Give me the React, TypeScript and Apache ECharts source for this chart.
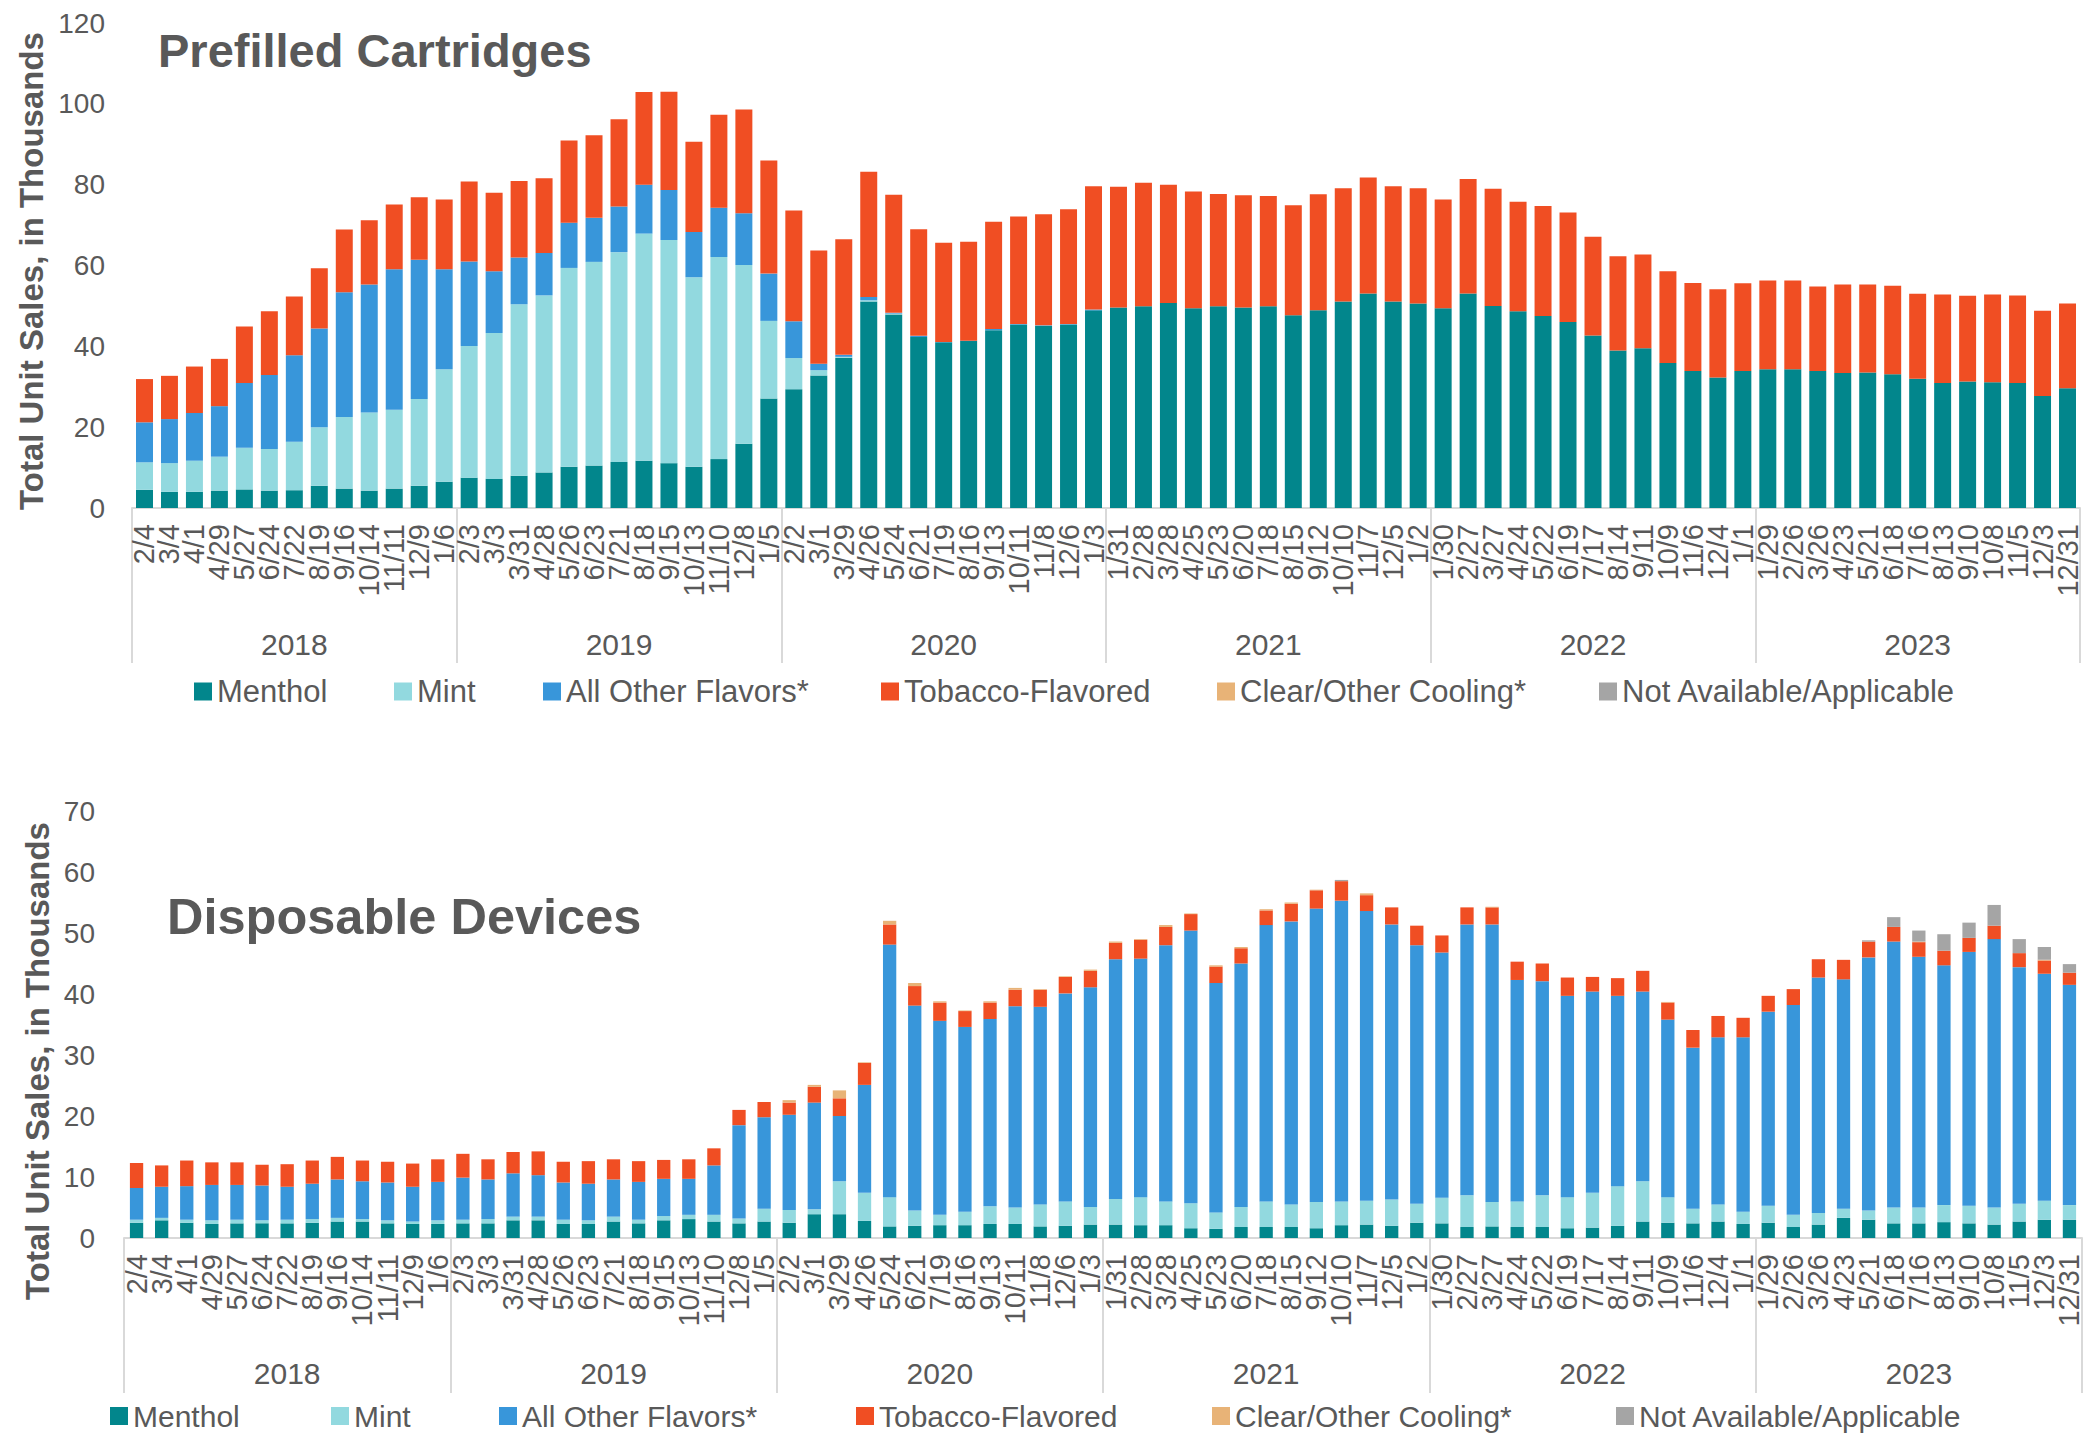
import React, { useEffect, useRef } from 'react';
import * as echarts from 'echarts';

const categories = [
  '2/4','3/4','4/1','4/29','5/27','6/24','7/22','8/19','9/16','10/14','11/11','12/9','1/6',
  '2/3','3/3','3/31','4/28','5/26','6/23','7/21','8/18','9/15','10/13','11/10','12/8','1/5',
  '2/2','3/1','3/29','4/26','5/24','6/21','7/19','8/16','9/13','10/11','11/8','12/6','1/3',
  '1/31','2/28','3/28','4/25','5/23','6/20','7/18','8/15','9/12','10/10','11/7','12/5','1/2',
  '1/30','2/27','3/27','4/24','5/22','6/19','7/17','8/14','9/11','10/9','11/6','12/4','1/1',
  '1/29','2/26','3/26','4/23','5/21','6/18','7/16','8/13','9/10','10/8','11/5','12/3','12/31',
];
const years = ['2018', '2019', '2020', '2021', '2022', '2023'];
const seriesNames = ['Menthol', 'Mint', 'All Other Flavors*', 'Tobacco-Flavored', 'Clear/Other Cooling*', 'Not Available/Applicable'];

// Prefilled Cartridges (thousands)
const cartMenthol = [
  4.5,4.0,4.0,4.3,4.6,4.3,4.4,5.5,4.8,4.3,4.8,5.5,6.5,
  7.5,7.2,8.0,8.8,10.2,10.5,11.4,11.7,11.1,10.2,12.1,15.9,27.1,
  29.4,32.8,37.2,51.1,47.9,42.3,41.0,41.3,44.0,45.4,45.1,45.4,48.9,
  49.6,49.9,50.7,49.4,49.9,49.6,49.9,47.7,48.9,51.1,53.1,51.1,50.6,
  49.4,53.1,50.0,48.7,47.5,46.0,42.7,39.0,39.5,35.9,33.9,32.3,33.9,
  34.3,34.3,33.9,33.4,33.5,33.1,32.0,30.9,31.3,31.1,30.9,27.7,29.6,
];
const cartMint = [
  6.8,7.1,7.7,8.4,10.3,10.3,12.0,14.5,17.7,19.3,19.5,21.5,27.8,
  32.6,36.1,42.4,43.8,49.2,50.4,51.9,56.2,55.2,46.9,50.0,44.2,19.2,
  7.7,1.3,0.2,0.3,0.2,0,0,0,0,0,0,0,0,
  0,0,0,0,0,0,0,0,0,0,0,0,0,
  0,0,0,0,0,0,0,0,0,0,0,0,0,
  0,0,0,0,0,0,0,0,0,0,0,0,0,
];
const cartOther = [
  9.9,10.9,11.8,12.5,16.0,18.3,21.4,24.4,30.9,31.7,34.8,34.4,24.8,
  20.9,15.3,11.6,10.5,11.2,10.9,11.3,12.1,12.4,11.2,12.2,12.8,11.7,
  9.1,1.6,0.5,0.8,0.2,0.3,0.1,0.1,0.3,0.1,0.1,0.1,0.2,
  0,0,0,0,0,0,0,0,0,0,0,0,0,
  0,0,0,0,0,0,0,0,0,0,0,0,0,
  0,0,0,0,0,0,0,0,0,0,0,0,0,
];
const cartTobacco = [
  10.7,10.7,11.5,11.7,14.0,15.8,14.5,14.9,15.5,15.9,16.0,15.5,17.2,
  19.8,19.4,18.9,18.5,20.3,20.4,21.6,22.9,24.3,22.3,23.0,25.7,28.0,
  27.4,28.0,28.6,31.0,29.2,26.4,24.5,24.5,26.5,26.6,27.5,28.4,30.5,
  29.9,30.6,29.3,28.9,27.8,27.8,27.3,27.2,28.7,28.0,28.7,28.5,28.5,
  26.9,28.3,29.0,27.1,27.2,27.1,24.4,23.3,23.2,22.7,21.8,21.8,21.7,
  22.0,22.0,20.9,21.9,21.8,21.9,21.0,21.9,21.2,21.7,21.7,21.1,21.0,
];
const cartClear = [
  0,0,0,0,0,0,0,0,0,0,0,0,0,
  0,0,0,0,0,0,0,0,0,0,0,0,0,
  0,0,0,0,0,0,0,0,0,0,0,0,0,
  0,0,0,0,0,0,0,0,0,0,0,0,0,
  0,0,0,0,0,0,0,0,0,0,0,0,0,
  0,0,0,0,0,0,0,0,0,0,0,0,0,
];
const cartNA = [
  0,0,0,0,0,0,0,0,0,0,0,0,0,
  0,0,0,0,0,0,0,0,0,0,0,0,0,
  0,0,0,0,0,0,0,0,0,0,0,0,0,
  0,0,0,0,0,0,0,0,0,0,0,0,0,
  0,0,0,0,0,0,0,0,0,0,0,0,0,
  0,0,0,0,0,0,0,0,0,0,0,0,0,
];

// Disposable Devices (thousands)
const dispMenthol = [
  2.5,2.9,2.5,2.3,2.4,2.4,2.4,2.5,2.7,2.7,2.4,2.3,2.3,
  2.4,2.4,2.9,2.9,2.3,2.3,2.7,2.4,2.9,3.1,2.7,2.4,2.7,
  2.5,3.9,3.9,2.8,1.9,2.0,2.1,2.1,2.3,2.3,1.9,2.0,2.2,
  2.2,2.1,2.1,1.6,1.5,1.8,1.8,1.8,1.6,2.1,2.2,2.0,2.5,
  2.4,1.8,1.9,1.8,1.8,1.6,1.7,2.0,2.7,2.5,2.4,2.7,2.3,
  2.5,1.8,2.2,3.3,3.0,2.4,2.4,2.6,2.4,2.2,2.7,3.0,3.0,
];
const dispMint = [
  0.5,0.4,0.5,0.6,0.6,0.5,0.6,0.6,0.6,0.4,0.5,0.4,0.6,
  0.6,0.7,0.6,0.6,0.7,0.6,0.8,0.6,0.7,0.7,1.1,0.8,2.1,
  2.1,0.8,5.4,4.6,4.8,2.5,1.7,2.2,2.9,2.7,3.6,4.0,2.9,
  4.2,4.6,3.9,4.1,2.7,3.3,4.2,3.7,4.3,3.9,3.9,4.3,3.1,
  4.2,5.2,4.0,4.2,5.2,5.1,5.7,6.5,6.6,4.2,2.4,2.8,2.0,
  2.8,2.0,1.9,1.5,1.5,2.6,2.6,2.8,2.9,2.8,2.9,3.1,2.4,
];
const dispOther = [
  5.2,5.1,5.5,5.8,5.7,5.7,5.4,5.8,6.3,6.2,6.2,5.7,6.3,
  6.9,6.5,7.1,6.8,6.1,6.0,6.1,6.2,6.1,5.9,8.1,15.3,15.0,
  15.6,17.5,10.7,17.7,41.4,33.6,31.8,30.3,30.7,33.0,32.4,34.1,36.0,
  39.3,39.1,42.0,44.7,37.6,39.9,45.3,46.4,48.1,49.3,47.5,45.1,42.4,
  40.2,44.4,45.5,36.3,35.1,33.0,33.0,31.2,31.1,29.1,26.4,27.4,28.6,
  31.8,34.4,38.6,37.6,41.5,43.6,41.1,39.3,41.6,44.0,38.8,37.2,36.1,
];
const dispTobacco = [
  4.1,3.5,4.2,3.7,3.7,3.4,3.7,3.8,3.7,3.4,3.4,3.8,3.7,
  3.9,3.3,3.5,3.9,3.4,3.7,3.3,3.4,3.1,3.2,2.8,2.5,2.5,
  2.0,2.6,2.9,3.6,3.3,3.2,3.0,2.6,2.7,2.7,2.8,2.7,2.7,
  2.7,3.1,3.0,2.7,2.7,2.5,2.4,2.9,3.0,3.2,2.6,2.8,3.2,
  2.8,2.8,2.8,3.0,2.9,3.0,2.4,2.9,3.4,2.8,2.9,3.5,3.2,
  2.6,2.6,3.0,3.2,2.6,2.4,2.4,2.4,2.3,2.2,2.3,2.2,2.0,
];
const dispClear = [
  0,0,0,0,0,0,0,0,0,0,0,0,0,
  0,0,0,0,0,0,0,0,0,0,0,0,0,
  0.4,0.3,1.3,0.1,0.6,0.5,0.2,0.1,0.2,0.3,0.1,0.1,0.2,
  0.2,0.1,0.3,0.1,0.2,0.2,0.2,0.2,0.1,0,0.3,0,0,
  0,0,0.1,0,0,0,0,0,0,0.1,0,0,0,
  0,0,0,0,0,0,0.1,0,0,0,0,0.1,0,
];
const dispNA = [
  0,0,0,0,0,0,0,0,0,0,0,0,0,
  0,0,0,0,0,0,0,0,0,0,0,0,0,
  0,0,0,0,0,0,0,0,0,0,0,0,0,
  0,0,0,0,0,0,0,0,0,0.2,0,0,0,
  0,0,0,0,0,0,0,0,0,0,0,0,0,
  0,0,0,0,0.2,1.6,1.8,2.7,2.5,3.4,2.3,2.1,1.4,
];

const COLORS = ['#02868C', '#92D9DF', '#3896DA', '#F04E23', '#E8B377', '#A5A5A5'];
const FONT = "'Liberation Sans', Arial, sans-serif";
const TXT = '#595959';
const AXIS_GRAY = '#D9D9D9';

function buildSeries(xAxisIndex: number, yAxisIndex: number, stack: string, arrays: number[][], gap: string) {
  return arrays.map((arr, i) => ({
    name: seriesNames[i],
    type: 'bar',
    stack,
    xAxisIndex,
    yAxisIndex,
    barCategoryGap: gap,
    data: arr,
    itemStyle: { color: COLORS[i] },
    emphasis: { disabled: true },
  }));
}

function buildLegends(lefts: number[], top: number, fontSize: number) {
  return seriesNames.map((n, i) => ({
    data: [n],
    left: lefts[i],
    top,
    padding: 0,
    itemWidth: 18,
    itemHeight: 18,
    icon: 'rect',
    selectedMode: false,
    textStyle: { fontSize, color: TXT, fontFamily: FONT },
  }));
}

function catAxis(gridIndex: number) {
  return {
    gridIndex,
    type: 'category',
    data: categories,
    axisLine: { show: true, lineStyle: { color: AXIS_GRAY, width: 2 } },
    axisTick: { show: false },
    axisLabel: { rotate: 90, interval: 0, fontSize: 29, color: TXT, fontFamily: FONT, margin: 16 },
  };
}
function yearAxis(gridIndex: number, margin: number) {
  return {
    gridIndex,
    type: 'category',
    data: years,
    position: 'bottom',
    axisLine: { show: false },
    axisTick: { show: true, interval: 0, length: 155, lineStyle: { color: AXIS_GRAY, width: 2 } },
    axisLabel: { interval: 0, fontSize: 30, color: TXT, fontFamily: FONT, margin },
  };
}

export default function App() {
  const ref = useRef<HTMLDivElement>(null);
  useEffect(() => {
    if (!ref.current) return;
    const chart = echarts.init(ref.current, null, { renderer: 'svg' });
    const option: any = {
      animation: false,
      backgroundColor: '#ffffff',
      textStyle: { fontFamily: FONT },
      grid: [
        { left: 132, right: 16, top: 23, height: 485 },
        { left: 124, right: 14, top: 811, height: 427 },
      ],
      xAxis: [catAxis(0), yearAxis(0, 121), catAxis(1), yearAxis(1, 120)],
      yAxis: [
        {
          gridIndex: 0, type: 'value', min: 0, max: 120, interval: 20,
          axisLine: { show: false }, axisTick: { show: false }, splitLine: { show: false },
          axisLabel: { fontSize: 28, color: TXT, fontFamily: FONT, margin: 27 },
        },
        {
          gridIndex: 1, type: 'value', min: 0, max: 70, interval: 10,
          axisLine: { show: false }, axisTick: { show: false }, splitLine: { show: false },
          axisLabel: { fontSize: 28, color: TXT, fontFamily: FONT, margin: 29 },
        },
      ],
      legend: [
        ...buildLegends([194, 394, 543, 881, 1217, 1599], 676, 31),
        ...buildLegends([110, 331, 499, 856, 1212, 1616], 1401, 30),
      ],
      series: [
        ...buildSeries(0, 0, 'cart', [cartMenthol, cartMint, cartOther, cartTobacco, cartClear, cartNA], '32%'),
        ...buildSeries(2, 1, 'disp', [dispMenthol, dispMint, dispOther, dispTobacco, dispClear, dispNA], '47%'),
      ],
      graphic: [
        {
          type: 'text', x: 158, y: 50,
          style: { text: 'Prefilled Cartridges', fontSize: 47, fontWeight: 'bold', fontFamily: FONT, fill: TXT, align: 'left', verticalAlign: 'middle' },
        },
        {
          type: 'text', x: 167, y: 916,
          style: { text: 'Disposable Devices', fontSize: 50.5, fontWeight: 'bold', fontFamily: FONT, fill: TXT, align: 'left', verticalAlign: 'middle' },
        },
        {
          type: 'text', x: 31, y: 271, rotation: Math.PI / 2,
          style: { text: 'Total Unit Sales, in Thousands', fontSize: 33, fontWeight: 'bold', fontFamily: FONT, fill: TXT, align: 'center', verticalAlign: 'middle' },
        },
        {
          type: 'text', x: 37, y: 1061, rotation: Math.PI / 2,
          style: { text: 'Total Unit Sales, in Thousands', fontSize: 33, fontWeight: 'bold', fontFamily: FONT, fill: TXT, align: 'center', verticalAlign: 'middle' },
        },
      ],
    };
    chart.setOption(option);
    return () => chart.dispose();
  }, []);
  return (
    <div
      ref={ref}
      style={{ position: 'absolute', left: 0, top: 0, width: 2096, height: 1437, background: '#fff' }}
    />
  );
}
